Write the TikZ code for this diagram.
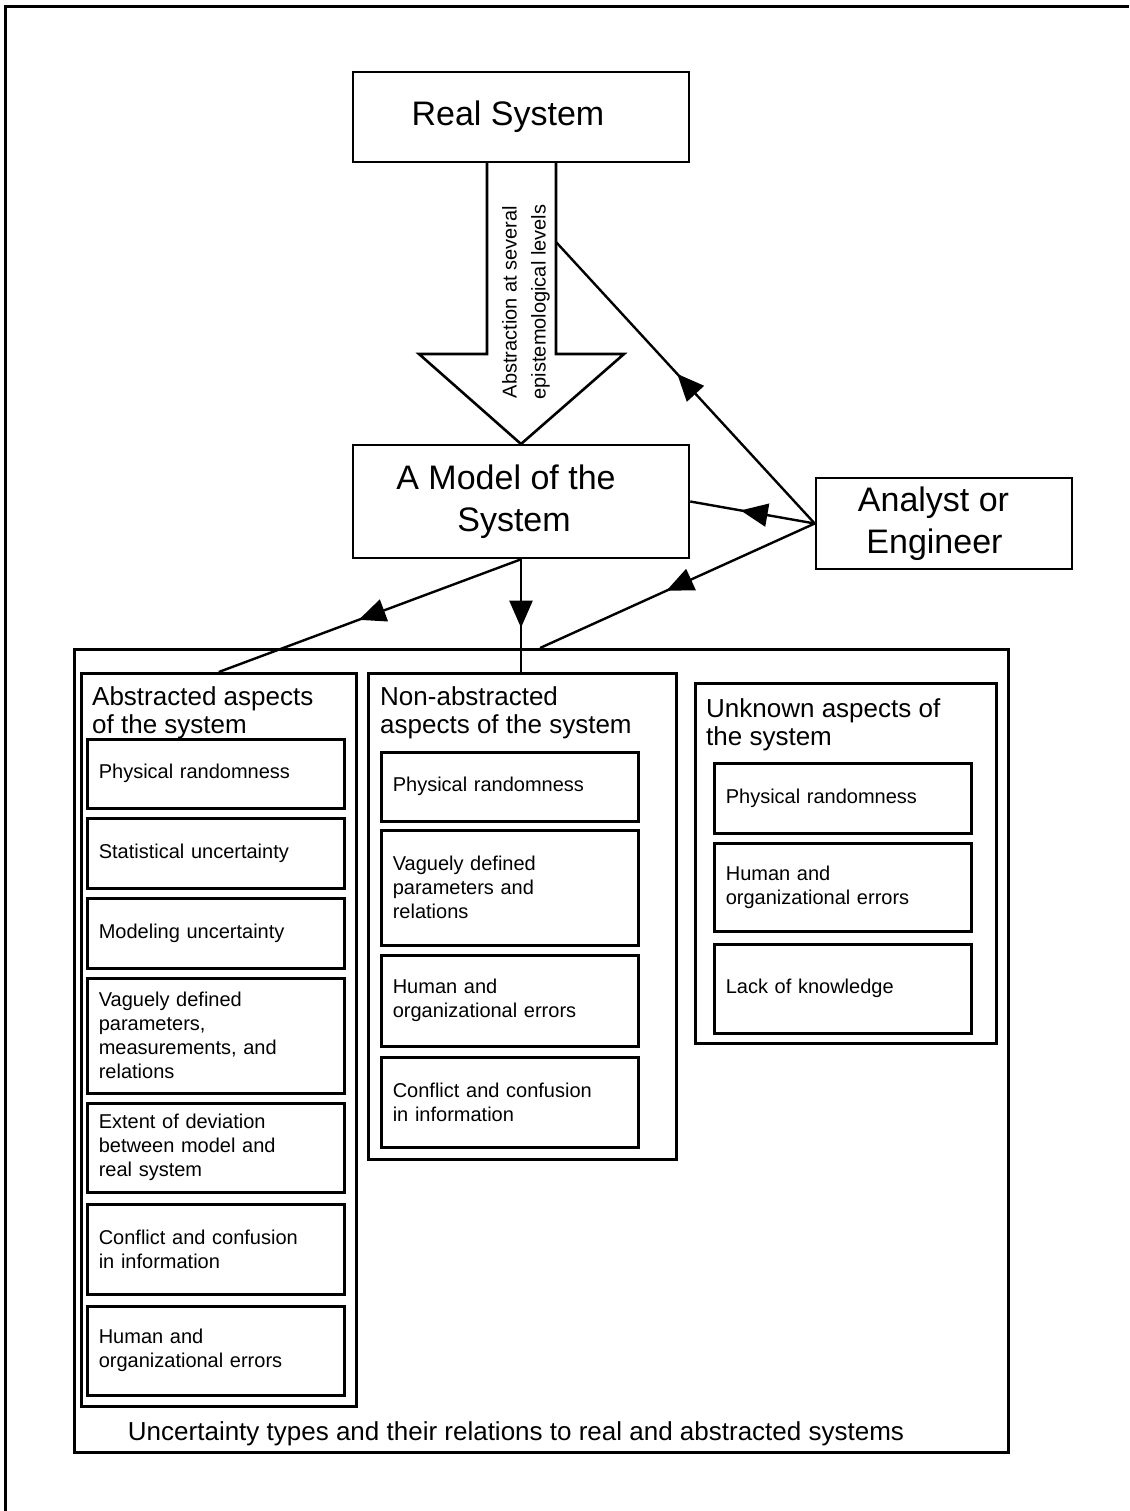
\documentclass[tikz,border=0pt]{standalone}
\usepackage{fontspec}
\setmainfont{Liberation Sans}
\usetikzlibrary{arrows.meta,decorations.markings}
\tikzset{
  box/.style={draw, line width=2.6pt, inner sep=0pt},
  bigbox/.style={box, font=\fontsize{34}{42.5}\selectfont, align=center},
  itembox/.style={box, anchor=north west, minimum width=257pt, text width=234pt,
    inner xsep=11.5pt, align=left, font=\fontsize{20}{24}\selectfont},
  column/.style={box, anchor=north west},
  coltitle/.style={anchor=base west, inner sep=0pt, align=left, font=\fontsize{26}{28}\selectfont},
  midarrow/.style={line width=2.4pt, postaction={decorate},
    decoration={markings, mark=at position 0.5 with {\arrow[xshift=12pt]{Triangle[length=27pt,width=23pt]}}}},
}
\begin{document}
\begin{tikzpicture}[x=1pt,y=-1pt]
\useasboundingbox (0,0) rectangle (1129,1511);
% page frame (top and left only)
\draw[line width=3pt] (5,1511) -- (5,7) -- (1129,7);

% top boxes
\node[bigbox, minimum width=336pt, minimum height=90pt] (real) at (521,117) {Real System\hspace*{26pt}};
\node[bigbox, minimum width=336pt, minimum height=113pt] (model) at (521,501.5) {A Model of the\hspace*{30pt}\\System\hspace*{14pt}};
\node[bigbox, minimum width=256pt, minimum height=91pt] (analyst) at (944,523.5) {Analyst or\hspace*{21pt}\\Engineer\hspace*{19pt}};

% block arrow
\draw[line width=2.6pt, line join=miter] (487,162) -- (487,354) -- (419,354) -- (521,444) -- (624,354) -- (556,354) -- (556,162);
\coordinate (shaftR) at (556,242);
\node[rotate=90, align=center, inner sep=0pt, font=\fontsize{20}{29}\selectfont] (abstrtxt) at (526,302) {Abstraction at several\\epistemological levels};

% outer container
\node[column, minimum width=934pt, minimum height=803pt] (outer) at (73,648) {};
\coordinate (outerTop) at (540,648);
\node[anchor=base, inner sep=0pt, font=\fontsize{26}{28}\selectfont] (caption) at (516,1440) {Uncertainty types and their relations to real and abstracted systems};

% columns
\node[column, minimum width=275pt, minimum height=733pt] (abs) at (80,672) {};
\node[column, minimum width=308pt, minimum height=486pt] (nonabs) at (367,672) {};
\node[column, minimum width=301pt, minimum height=360pt] (unk) at (694,682) {};

% titles (anchor = baseline of the last line)
\node[coltitle] (absT) at (92,733) {Abstracted aspects\\of the system};
\node[coltitle] (nonabsT) at (380,733) {Non-abstracted\\aspects of the system};
\node[coltitle] (unkT) at (706,745) {Unknown aspects of\\the system};

% abstracted items
\node[itembox, minimum height=69pt] (a1) at (86,738) {Physical randomness};
\node[itembox, minimum height=70pt] (a2) at (86,817) {Statistical uncertainty};
\node[itembox, minimum height=70pt] (a3) at (86,897) {Modeling uncertainty};
\node[itembox, minimum height=115pt] (a4) at (86,977) {Vaguely defined\\parameters,\\measurements, and\\relations};
\node[itembox, minimum height=89pt] (a5) at (86,1102) {Extent of deviation\\between model and\\real system};
\node[itembox, minimum height=90pt] (a6) at (86,1203) {Conflict and confusion\\in information};
\node[itembox, minimum height=89pt] (a7) at (86,1305) {Human and\\organizational errors};

% non-abstracted items
\node[itembox, minimum height=69pt] (n1) at (380,751) {Physical randomness};
\node[itembox, minimum height=115pt] (n2) at (380,829) {Vaguely defined\\parameters and\\relations};
\node[itembox, minimum height=91pt] (n3) at (380,954) {Human and\\organizational errors};
\node[itembox, minimum height=90pt] (n4) at (380,1056) {Conflict and confusion\\in information};

% unknown items
\node[itembox, minimum height=70pt] (u1) at (713,762) {Physical randomness};
\node[itembox, minimum height=88pt] (u2) at (713,842) {Human and\\organizational errors};
\node[itembox, minimum height=89pt] (u3) at (713,943) {Lack of knowledge};

% connectors
\draw[midarrow] (analyst.west) -- (shaftR);
\draw[midarrow] (analyst.west) -- (model.east);
\draw[midarrow] (analyst.west) -- (outerTop);
\draw[midarrow] (model.south) -- (abs.north);
\draw[midarrow] (model.south) -- (model.south |- nonabs.north);
\end{tikzpicture}
\end{document}
